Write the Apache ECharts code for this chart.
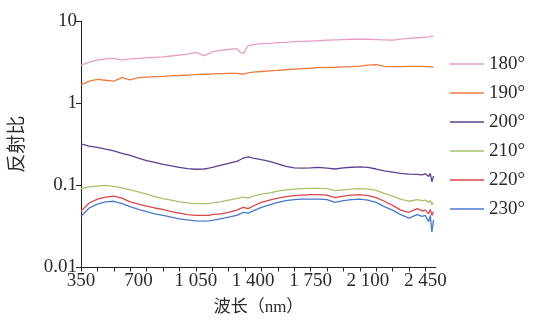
<!DOCTYPE html>
<html><head><meta charset="utf-8">
<script src="https://cdn.jsdelivr.net/npm/echarts@6/dist/echarts.min.js"></script>
<style>html,body{margin:0;padding:0;background:#fff}#c{width:536px;height:324px}</style>
</head><body><div id="c"></div>
<script>
// wavelengths (nm)
var wavelengths = [350,400,450,500,550,600,650,700,750,800,850,900,950,1000,1050,1100,1130,1150,1200,1250,1300,1320,1340,1370,1400,1450,1500,1550,1600,1650,1700,1750,1800,1850,1900,1950,2000,2050,2100,2150,2200,2250,2300,2350,2400,2430,2450,2470,2480,2490,2500];
var seriesNames = ['180°','190°','200°','210°','220°','230°'];
var r180 = [2.9,3.15,3.35,3.45,3.5,3.35,3.45,3.5,3.55,3.6,3.65,3.75,3.85,3.95,4.15,3.8,4.0,4.2,4.4,4.5,4.6,4.2,4.0,5.0,5.15,5.3,5.35,5.45,5.5,5.6,5.65,5.7,5.75,5.85,5.9,5.95,6.0,6.0,6.0,5.95,5.9,5.85,6.0,6.15,6.25,6.3,6.35,6.4,6.45,6.5,6.5];
var r190 = [1.67,1.85,1.95,1.9,1.85,2.05,1.92,2.05,2.08,2.1,2.12,2.15,2.17,2.2,2.22,2.25,2.25,2.27,2.29,2.3,2.3,2.28,2.26,2.33,2.38,2.43,2.47,2.5,2.55,2.6,2.63,2.66,2.7,2.72,2.72,2.76,2.78,2.82,2.9,2.95,2.8,2.78,2.78,2.8,2.8,2.8,2.78,2.8,2.78,2.75,2.78];
var r200 = [0.32,0.3,0.29,0.275,0.262,0.245,0.232,0.215,0.2,0.19,0.18,0.172,0.165,0.16,0.157,0.158,0.162,0.165,0.175,0.185,0.196,0.205,0.215,0.222,0.215,0.205,0.196,0.182,0.17,0.163,0.162,0.163,0.165,0.162,0.158,0.163,0.166,0.168,0.165,0.158,0.15,0.145,0.14,0.137,0.136,0.134,0.138,0.128,0.14,0.11,0.13];
var r210 = [0.0914,0.096,0.098,0.1,0.097,0.093,0.088,0.083,0.078,0.073,0.069,0.066,0.063,0.061,0.06,0.06,0.06,0.061,0.063,0.066,0.069,0.071,0.072,0.07,0.074,0.078,0.081,0.085,0.088,0.09,0.091,0.092,0.092,0.091,0.086,0.088,0.09,0.091,0.09,0.087,0.08,0.074,0.068,0.064,0.067,0.065,0.066,0.062,0.066,0.058,0.062];
var r220 = [0.0485,0.061,0.068,0.072,0.074,0.07,0.063,0.059,0.056,0.053,0.051,0.048,0.046,0.044,0.043,0.043,0.043,0.044,0.045,0.047,0.05,0.052,0.054,0.052,0.056,0.062,0.066,0.07,0.073,0.075,0.076,0.077,0.077,0.076,0.071,0.074,0.076,0.077,0.075,0.071,0.064,0.057,0.05,0.047,0.052,0.049,0.05,0.045,0.051,0.043,0.048];
var r230 = [0.042,0.053,0.059,0.063,0.064,0.06,0.055,0.051,0.048,0.045,0.043,0.041,0.039,0.038,0.037,0.0367,0.037,0.0375,0.039,0.041,0.043,0.045,0.047,0.046,0.049,0.054,0.058,0.062,0.065,0.067,0.068,0.068,0.068,0.067,0.062,0.065,0.067,0.068,0.066,0.062,0.055,0.05,0.044,0.04,0.044,0.042,0.043,0.036,0.043,0.027,0.038];
var xLabelValues = [350,700,1050,1400,1750,2100,2450];
var xLabelTexts = ['350','700','1 050','1 400','1 750','2 100','2 450'];
var xTickValues = [350,450,550,650,750,850,950,1050,1150,1250,1350,1450,1550,1650,1750,1850,1950,2050,2150,2250,2350,2450];
var yLabelValues = [0.01,0.1,1,10];
var yLabelTexts = ['0.01','0.1','1','10'];
var colors = ['#e89cc4','#f07a3c','#5e3f8f','#a6c26c','#d9474a','#4a78cc'];

var allVals = [r180,r190,r200,r210,r220,r230];
var serif = '"Liberation Serif","Noto Sans CJK SC",serif';
var chart = echarts.init(document.getElementById('c'));
chart.setOption({
  animation:false,
  backgroundColor:'#fff',
  grid:{left:81,right:100,top:21,bottom:56.5},
  legend:{orient:'vertical',left:445,top:49,icon:'rect',itemWidth:34,itemHeight:1.5,itemGap:9,
    textStyle:{fontFamily:serif,fontSize:19,color:'#2a2a2a',lineHeight:20},
    data:seriesNames},
  xAxis:{type:'value',min:350,max:2515,
    name:'波长（nm）',nameLocation:'middle',nameGap:32,
    nameTextStyle:{fontFamily:serif,fontSize:17,color:'#2a2a2a'},
    axisLine:{lineStyle:{color:'#222',width:1}},
    axisTick:{customValues:xTickValues,length:4,lineStyle:{color:'#222'}},
    axisLabel:{customValues:xLabelValues,margin:4,fontFamily:serif,fontSize:19,color:'#2a2a2a',
      formatter:function(v){var i=xLabelValues.indexOf(v);return i>=0?xLabelTexts[i]:'';}},
    splitLine:{show:false}},
  yAxis:{type:'log',logBase:10,min:0.01,max:10,
    name:'反射比',nameLocation:'middle',nameGap:53,nameRotate:90,
    nameTextStyle:{fontFamily:serif,fontSize:19,color:'#2a2a2a'},
    axisLine:{show:true,lineStyle:{color:'#222',width:1}},
    axisTick:{show:true,length:5,lineStyle:{color:'#222'}},
    axisLabel:{margin:4,fontFamily:serif,fontSize:19,color:'#2a2a2a',
      formatter:function(v){for(var i=0;i<yLabelValues.length;i++){if(Math.abs(v-yLabelValues[i])<yLabelValues[i]*1e-6)return yLabelTexts[i];}return '';}},
    splitLine:{show:false}},
  series:seriesNames.map(function(n,k){
    return {name:n,type:'line',symbol:'none',color:colors[k],
      lineStyle:{width:1.3,color:colors[k]},
      data:wavelengths.map(function(w,i){return [w,allVals[k][i]];})};
  })
});
</script></body></html>
